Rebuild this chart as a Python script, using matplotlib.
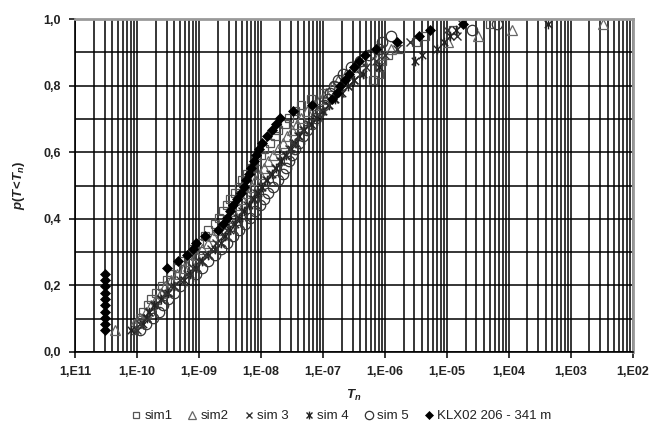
import numpy as np
import matplotlib
matplotlib.use("Agg")
import matplotlib.pyplot as plt
from matplotlib.path import Path
from matplotlib.ticker import FixedLocator, FixedFormatter, NullFormatter

plt.rcParams['font.family'] = ['Liberation Sans', 'DejaVu Sans']
plt.rcParams['mathtext.fontset'] = 'custom'
plt.rcParams['mathtext.it'] = 'Liberation Sans:italic:bold'
plt.rcParams['mathtext.rm'] = 'Liberation Sans:bold'

# cumulative probability (plotting positions) shared by all series
p = [0.065, 0.084, 0.103, 0.121, 0.140, 0.159, 0.178, 0.197, 0.215, 0.234,
     0.253, 0.272, 0.291, 0.309, 0.328, 0.347, 0.366, 0.385, 0.403, 0.422,
     0.441, 0.460, 0.479, 0.497, 0.516, 0.535, 0.554, 0.573, 0.591, 0.610,
     0.629, 0.648, 0.667, 0.685, 0.704, 0.723, 0.742, 0.761, 0.779, 0.798,
     0.817, 0.836, 0.855, 0.873, 0.892, 0.911, 0.930, 0.949, 0.967, 0.986]

# log10 of transmissivity T_n for each series
sim1_log = [-10.05, -10.0, -9.95, -9.9, -9.82, -9.78, -9.7, -9.6, -9.52, -9.45,
            -9.35, -9.28, -9.15, -9.1, -9.0, -8.9, -8.85, -8.75, -8.68, -8.62,
            -8.55, -8.5, -8.42, -8.35, -8.3, -8.22, -8.15, -8.08, -8.0, -7.95,
            -7.85, -7.78, -7.72, -7.62, -7.55, -7.45, -7.35, -7.2, -7.0, -6.75,
            -6.2, -6.1, -6.08, -6.05, -5.95, -5.75, -5.5, -5.35, -4.9, -4.3]
sim2_log = [-10.35, -10.05, -9.95, -9.85, -9.78, -9.7, -9.62, -9.55, -9.45, -9.35,
            -9.25, -9.15, -9.05, -8.95, -8.85, -8.78, -8.7, -8.62, -8.52, -8.45,
            -8.38, -8.3, -8.22, -8.15, -8.1, -8.02, -7.95, -7.88, -7.8, -7.72,
            -7.65, -7.58, -7.5, -7.42, -7.35, -7.25, -7.15, -7.05, -6.95, -6.85,
            -6.75, -6.62, -6.5, -6.35, -6.1, -5.9, -4.98, -4.5, -3.95, -2.48]
sim3_log = [-10.0, -9.95, -9.85, -9.8, -9.7, -9.62, -9.55, -9.45, -9.3, -9.2,
            -9.1, -9.0, -8.9, -8.8, -8.72, -8.62, -8.55, -8.45, -8.38, -8.3,
            -8.22, -8.15, -8.08, -8.0, -7.92, -7.85, -7.78, -7.7, -7.62, -7.55,
            -7.48, -7.4, -7.32, -7.22, -7.12, -7.02, -6.92, -6.82, -6.72, -6.6,
            -6.5, -6.4, -6.3, -6.15, -6.0, -5.8, -5.6, -4.84, -5.0, -4.75]
sim4_log = [-10.1, -9.9, -9.84, -9.8, -9.72, -9.62, -9.5, -9.4, -9.25, -9.15,
            -9.05, -8.95, -8.85, -8.75, -8.65, -8.58, -8.5, -8.42, -8.35, -8.28,
            -8.2, -8.12, -8.05, -7.98, -7.9, -7.82, -7.75, -7.68, -7.6, -7.52,
            -7.45, -7.38, -7.3, -7.2, -7.1, -7.0, -6.9, -6.8, -6.7, -6.6,
            -6.5, -6.35, -6.1, -5.52, -5.4, -5.16, -5.05, -4.95, -4.85, -3.37]
sim5_log = [-9.95, -9.85, -9.75, -9.65, -9.58, -9.5, -9.4, -9.3, -9.18, -9.05,
            -8.95, -8.85, -8.75, -8.65, -8.55, -8.45, -8.35, -8.25, -8.18, -8.1,
            -8.02, -7.95, -7.88, -7.8, -7.72, -7.65, -7.6, -7.55, -7.5, -7.45,
            -7.38, -7.32, -7.25, -7.18, -7.12, -7.05, -6.98, -6.92, -6.88, -6.82,
            -6.75, -6.68, -6.55, -6.4, -6.25, -6.1, -6.05, -5.9, -4.6, -4.19]
klx_log = [-10.52, -10.52, -10.52, -10.52, -10.52, -10.52, -10.52, -10.52, -10.52, -10.52,
           -9.52, -9.34, -9.2, -9.1, -9.05, -8.9, -8.7, -8.62, -8.55, -8.5,
           -8.45, -8.38, -8.32, -8.28, -8.24, -8.2, -8.16, -8.12, -8.08, -8.04,
           -7.98, -7.9, -7.82, -7.75, -7.7, -7.48, -7.18, -6.85, -6.78, -6.72,
           -6.65, -6.58, -6.5, -6.42, -6.32, -6.15, -5.8, -5.45, -5.27, -4.74]

labels = ["sim1", "sim2", "sim 3", "sim 4", "sim 5", "KLX02 206 - 341 m"]
xtick_vals = [1e-11, 1e-10, 1e-9, 1e-8, 1e-7, 1e-6, 1e-5, 1e-4, 1e-3, 1e-2]
xtick_labels = ["1,E11", "1,E-10", "1,E-09", "1,E-08", "1,E-07", "1,E-06",
                "1,E-05", "1,E04", "1,E03", "1,E02"]
ytick_vals = [0.0, 0.2, 0.4, 0.6, 0.8, 1.0]
ytick_labels = ["0,0", "0,2", "0,4", "0,6", "0,8", "1,0"]

# Excel-style asterisk marker: x with vertical bar
star_path = Path([(-1, -1), (1, 1), (-1, 1), (1, -1), (0, -1.3), (0, 1.3)],
                 [Path.MOVETO, Path.LINETO, Path.MOVETO, Path.LINETO, Path.MOVETO, Path.LINETO])

fig = plt.figure(figsize=(6.53, 4.34), dpi=100)
ax = fig.add_axes([0.115, 0.189, 0.854, 0.767])

ax.set_xscale('log')
ax.set_xlim(1e-11, 1e-2)
ax.set_ylim(0, 1.0)

# grid lines: minor at 2..9 of each decade, horizontal every 0.1
minor_x = [m * 10.0 ** e for e in range(-11, -2) for m in range(2, 10)]
ax.xaxis.set_minor_locator(FixedLocator(minor_x))
ax.xaxis.set_minor_formatter(NullFormatter())
ax.yaxis.set_minor_locator(FixedLocator([0.1, 0.3, 0.5, 0.7, 0.9]))
ax.grid(True, which='both', axis='both', color='black', linewidth=1.1)
ax.set_axisbelow(True)

series = [sim1_log, sim2_log, sim3_log, sim4_log, sim5_log, klx_log]
styles = [
    dict(marker='s', ms=6, mfc='none', mec='#555555', mew=0.9),
    dict(marker='^', ms=6.5, mfc='none', mec='#666666', mew=0.9),
    dict(marker='x', ms=6, mec='#333333', mew=1.0),
    dict(marker=star_path, ms=7, mec='#222222', mew=1.0),
    dict(marker='o', ms=7.5, mfc='none', mec='#333333', mew=0.9),
    dict(marker='D', ms=5.2, mfc='black', mec='black', mew=0.5),
]
for vals, st, lab in zip(series, styles, labels):
    T = [10.0 ** v for v in vals]
    ax.plot(T, p, linestyle='none', label=lab, **st)

ax.xaxis.set_major_locator(FixedLocator(xtick_vals))
ax.xaxis.set_major_formatter(FixedFormatter(xtick_labels))
ax.yaxis.set_major_locator(FixedLocator(ytick_vals))
ax.yaxis.set_major_formatter(FixedFormatter(ytick_labels))
ax.tick_params(axis='both', which='major', labelsize=9, length=4, width=1.1,
               color='black', pad=6)
ax.tick_params(axis='both', which='minor', length=0)
for lbl in ax.get_xticklabels() + ax.get_yticklabels():
    lbl.set_fontweight('bold')
    lbl.set_color('#222222')

for s in ['left', 'bottom']:
    ax.spines[s].set_color('black')
    ax.spines[s].set_linewidth(1.2)
for s in ['top', 'right']:
    ax.spines[s].set_color('#999999')
    ax.spines[s].set_linewidth(2)

ax.set_xlabel(r'$T_n$', fontsize=9.5, labelpad=7, color='#222222')
ax.set_ylabel(r'$p(T\!<\!T_n)$', fontsize=9.5, labelpad=12, color='#222222')

leg = fig.legend(loc='lower center', bbox_to_anchor=(0.52, 0.0), ncol=6, frameon=False,
                 prop={'size': 9.5}, handletextpad=0.05, columnspacing=0.9,
                 markerscale=0.8, handlelength=1.2)
for t in leg.get_texts():
    t.set_color('#222222')

fig.savefig('out.png', dpi=100)
